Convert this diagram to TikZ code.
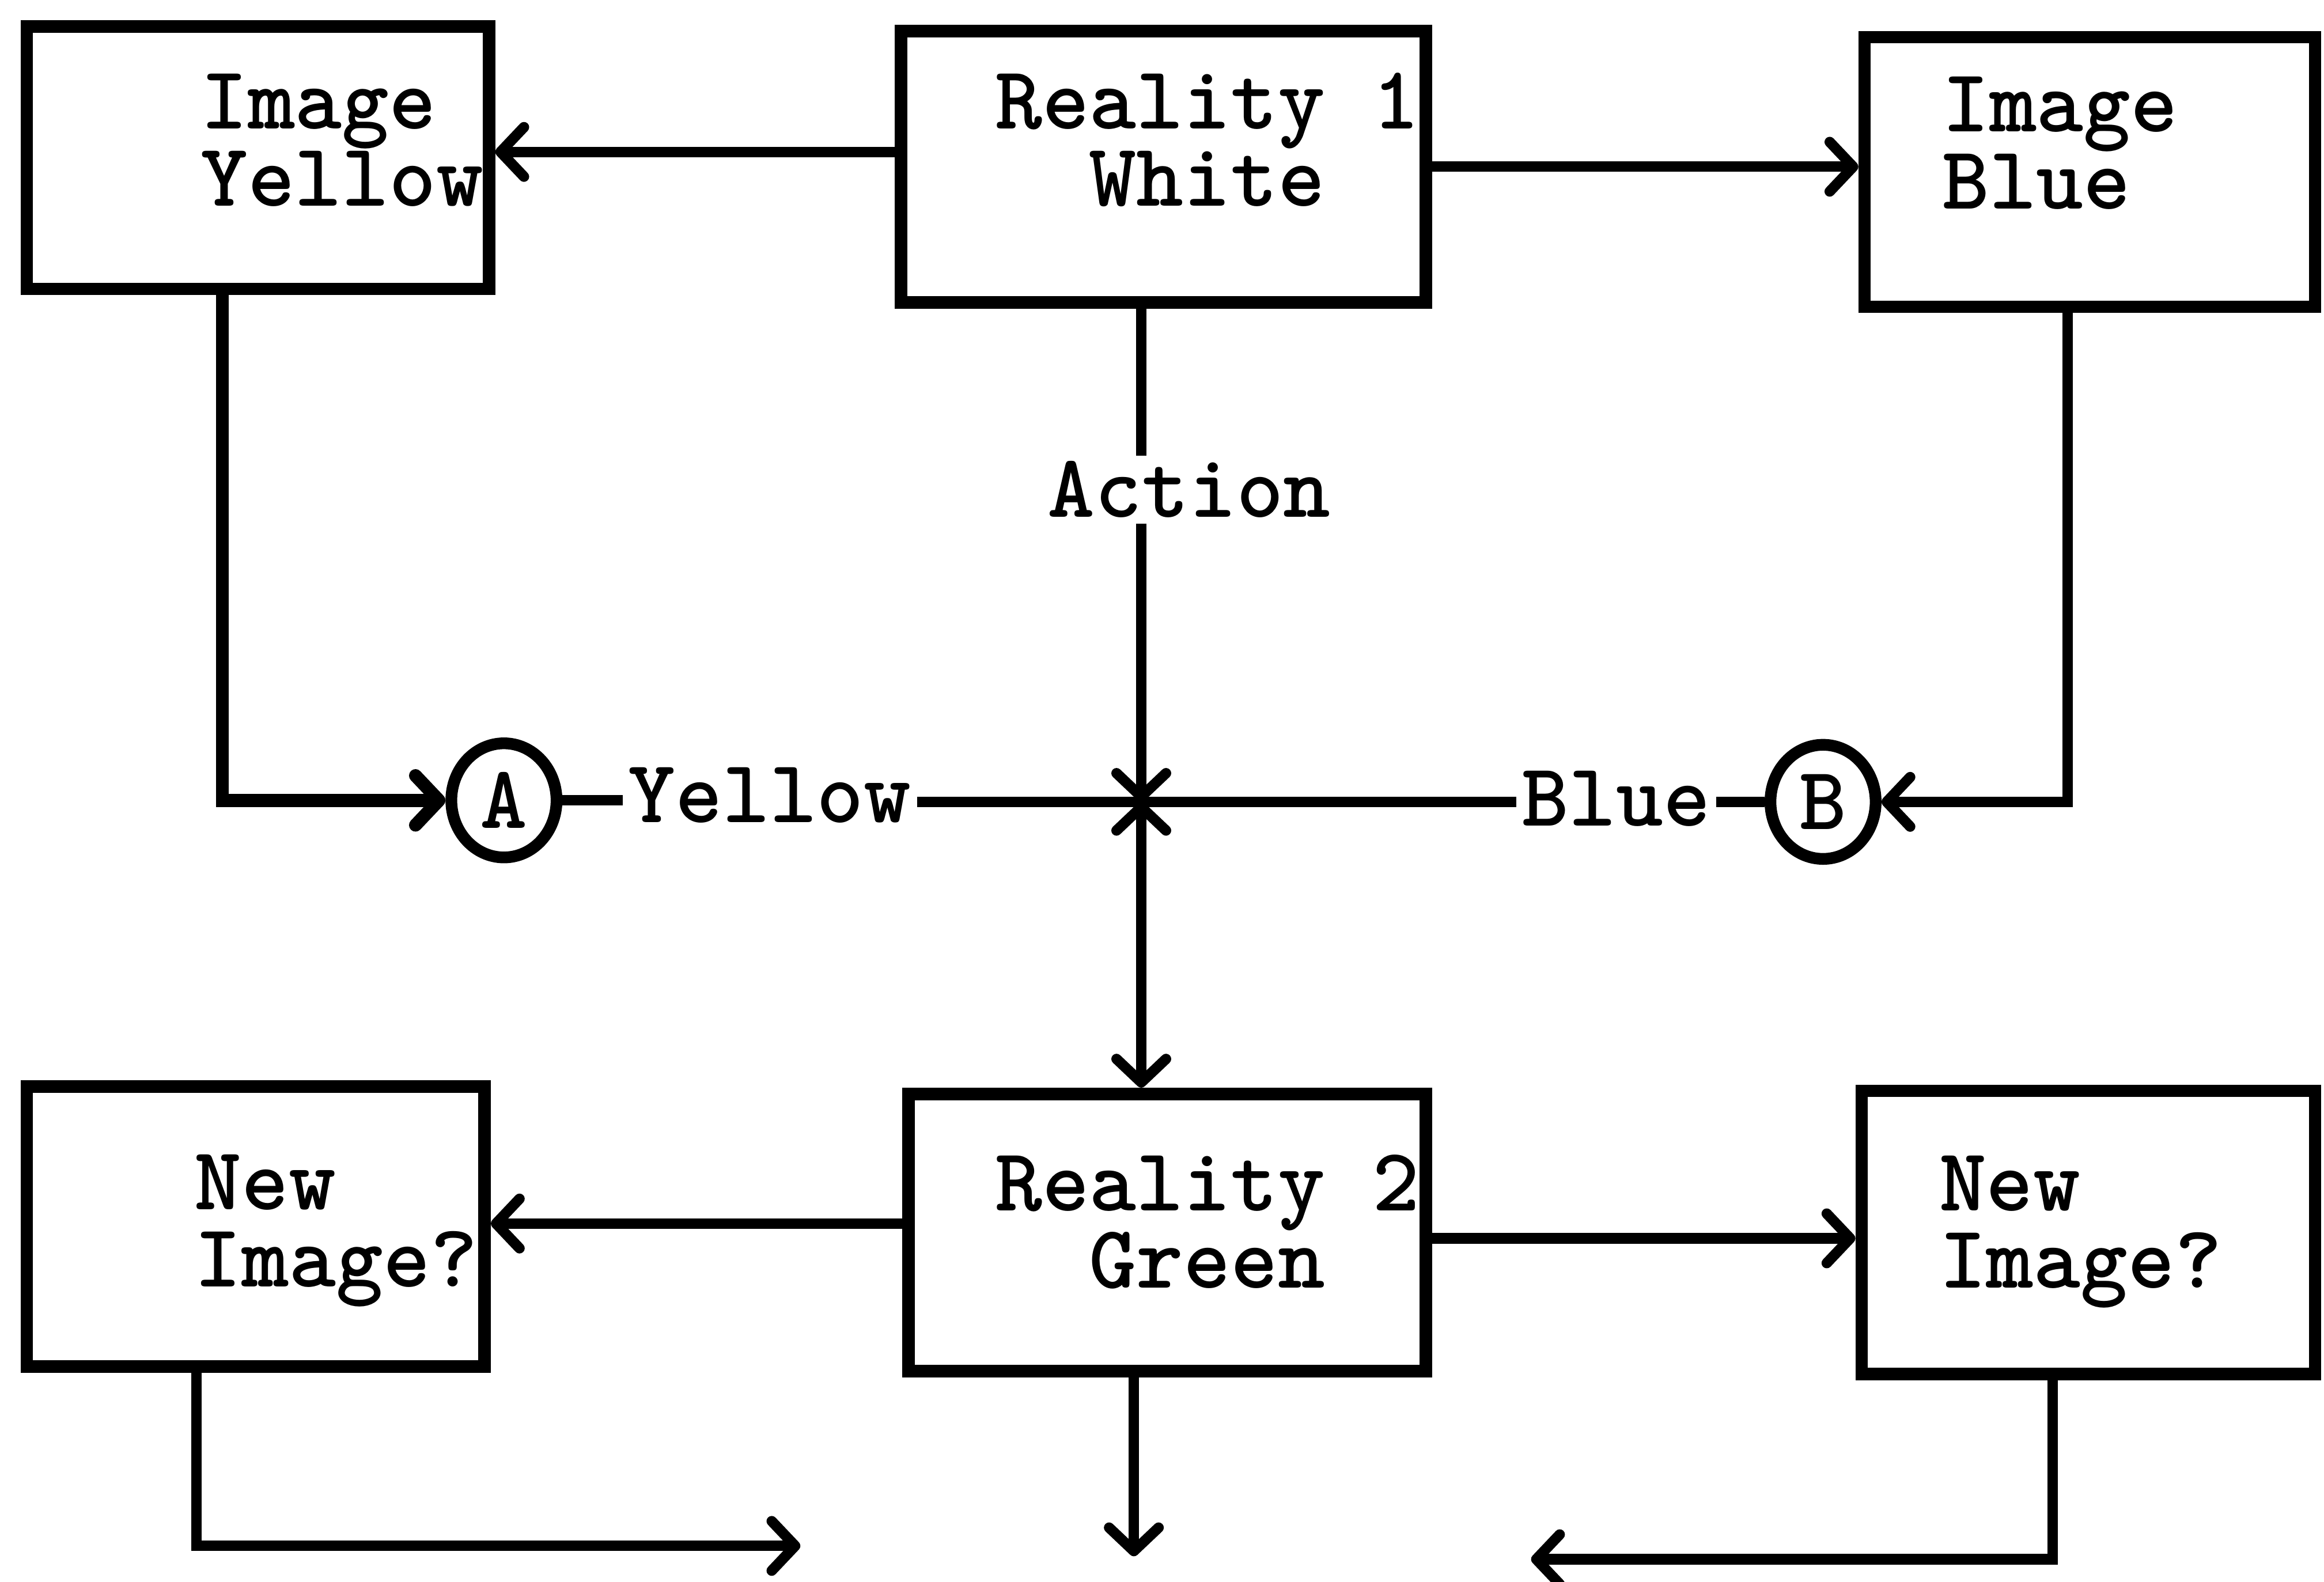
\documentclass[tikz,border=0pt]{standalone}
\usepackage{fontspec}
\usetikzlibrary{arrows.meta,calc,shapes.geometric}
\begin{document}
\begin{tikzpicture}[x=0.02cm, y=-0.02cm,
  >={Straight Barb[round,length=9pt,width=19pt]},
  box/.style={draw, line width=4.8pt, rectangle, inner sep=0pt},
  wire/.style={line width=4pt},
  typed/.style={font=\ttfamily\bfseries\fontsize{34.5pt}{29.6pt}\selectfont},
  txt/.style={typed, anchor=base west, inner sep=0pt, align=left},
  lab/.style={typed, anchor=base west, inner sep=2pt},
  ring/.style={typed, draw, ellipse, line width=4.5pt, inner sep=0pt, minimum width=1.42cm, minimum height=1.54cm}]
\useasboundingbox (0,0) rectangle (1568,1067);

% boxes
\node[box, minimum width=6.24cm, minimum height=3.54cm] (iy) at (174,106.5) {};
\node[box, minimum width=7.08cm, minimum height=3.66cm] (r1) at (785,112.5) {};
\node[box, minimum width=6.08cm, minimum height=3.64cm] (ib) at (1410,116) {};
\node[box, minimum width=6.18cm, minimum height=3.78cm] (nl) at (172.5,827.5) {};
\node[box, minimum width=6.98cm, minimum height=3.74cm] (r2) at (787.5,831.5) {};
\node[box, minimum width=6.12cm, minimum height=3.82cm] (nr) at (1409,831.5) {};

% box texts, one typed block per box (placed by the baseline of its last line)
\node[txt] (iyt) at (135,139) {Image\\Yellow};
\node[txt] (r1t) at (671,139) {Reality 1\\\ \ White};
\node[txt] (ibt) at (1310,141) {Image\\Blue};
\node[txt] (nlt) at (131,868) {New\\Image?};
\node[txt] (r2t) at (671,869) {Reality 2\\\ \ Green};
\node[txt] (nrt) at (1308,869) {New\\Image?};

% middle row
\coordinate (x) at (770,541);
\node[lab] (act) at (703,349) {Action};
\node[ring] (A) at (340,540) {A};
\node[ring] (B) at (1230,541) {B};
\node[lab] (ylab) at (420,555) {Yellow};
\node[lab] (blab) at (1023,557) {Blue};

% connectors of the top row
\draw[wire,->] ($(r1.west)+(0,-10)$) coordinate (t1) -- (t1 -| iy.east);
\draw[wire,->] (r1.east) -- (r1.east -| ib.west);
\draw[wire] (r1.south -| x) -- (act.north -| x);
\draw[wire,->] (act.south -| x) -- (x);
\draw[wire,line width=5pt,->] ($(iy.south)+(-24,0)$) |- (A.west);
\draw[wire,->] ($(ib.south)+(-15,0)$) |- (B.east);

% the Yellow--Blue line through the crossing
\draw[wire] (A.east) -- (ylab.west |- A.east);
\draw[wire] (ylab.east |- x) -- (x) -- (blab.west |- x);
\draw[wire] (blab.east |- B.west) -- (B.west);

% crossing to Reality 2
\draw[wire,<->] (x) -- (r2.north -| x);

% connectors of the bottom row
\draw[wire,->] ($(r2.west)+(0,-6)$) coordinate (t2) -- (t2 -| nl.east);
\draw[wire,->] ($(r2.east)+(0,4)$) coordinate (t3) -- (t3 -| nr.west);
\coordinate (e1) at (540,1043);
\coordinate (e2) at (765,1050);
\coordinate (e3) at (1033,1052);
\draw[wire,->] ($(nl.south)+(-40,0)$) |- (e1);
\draw[wire,->] (r2.south -| e2) -- (e2);
\draw[wire,->] ($(nr.south)+(-24,0)$) |- (e3);
\end{tikzpicture}
\end{document}
